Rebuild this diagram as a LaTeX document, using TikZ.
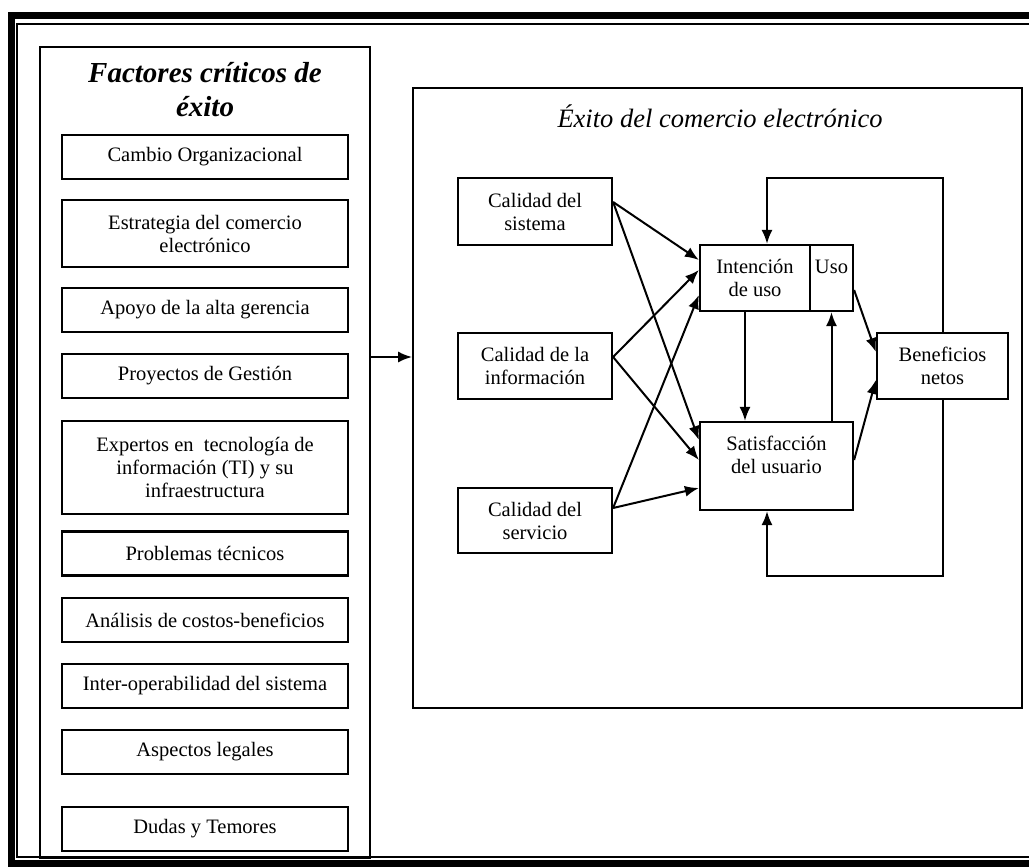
\documentclass[tikz,border=0pt]{standalone}
\usepackage{fontspec}
\setmainfont{Liberation Serif}
\usetikzlibrary{arrows.meta,calc}

\begin{document}
\begin{tikzpicture}[x=1pt,y=-1pt,
	caja/.style={draw, line width=2.2pt, align=center, inner sep=0pt,
		font=\fontsize{20.5}{23}\selectfont},
	panel/.style={draw, line width=1.8pt, inner sep=0pt},
	flecha/.style={-{Latex[length=14pt,width=11pt]}, line width=2pt}]

	% parameters
	\def\anchoizq{286}
	\def\altoizq{44}
	\def\anchocal{154}

	\useasboundingbox (0,0) rectangle (1029,867);

	% frame
	\draw[line width=7pt] (1040,16) -| (11,863) -- (1040,863);
	\draw[line width=1.5pt] (1040,24) -| (17,857) -- (1040,857);

	% panels
	\node[panel, minimum width=330, minimum height=811] (izq) at (205,452.5) {};
	\node[panel, minimum width=609, minimum height=620] (der) at (717.5,398) {};

	% titles
	\node[anchor=north, align=center, inner sep=0pt,
		font=\fontsize{29}{34}\selectfont\bfseries\itshape] (titizq) at (205,62)
		{Factores críticos de\\éxito};
	\node[anchor=base, inner sep=0pt,
		font=\fontsize{26.5}{30}\selectfont\itshape] (titder) at (720,128)
		{Éxito del comercio electrónico};

	% critical factors
	\node[caja, minimum width=\anchoizq, minimum height=\altoizq] (f1) at (205,157) {Cambio Organizacional};
	\node[caja, minimum width=\anchoizq, minimum height=67] (f2) at (205,233.5) {Estrategia del comercio\\electrónico};
	\node[caja, minimum width=\anchoizq, minimum height=\altoizq] (f3) at (205,310) {Apoyo de la alta gerencia};
	\node[caja, minimum width=\anchoizq, minimum height=\altoizq] (f4) at (205,376) {Proyectos de Gestión};
	\node[caja, minimum width=\anchoizq, minimum height=93] (f5) at (205,467.5) {Expertos en\ \ tecnología de\\información (TI) y su\\infraestructura};
	\node[caja, minimum width=\anchoizq, minimum height=\altoizq] (f6) at (205,553.5) {Problemas técnicos};
	\node[caja, minimum width=\anchoizq, minimum height=\altoizq] (f7) at (205,620) {Análisis de costos-beneficios};
	\node[caja, minimum width=\anchoizq, minimum height=\altoizq] (f8) at (205,686) {Inter-operabilidad del sistema};
	\node[caja, minimum width=\anchoizq, minimum height=\altoizq] (f9) at (205,752) {Aspectos legales};
	\node[caja, minimum width=\anchoizq, minimum height=\altoizq] (f10) at (205,829) {Dudas y Temores};

	% success model
	\node[caja, minimum width=\anchocal, minimum height=67] (sis) at (535,211.5) {Calidad del\\sistema};
	\node[caja, minimum width=\anchocal, minimum height=66] (info) at (535,366) {Calidad de la\\información};
	\node[caja, minimum width=\anchocal, minimum height=65] (serv) at (535,520.5) {Calidad del\\servicio};
	\node[caja, minimum width=110, minimum height=66] (int) at (755,278) {Intención\\de uso};
	\node[caja, minimum width=43, minimum height=66] (uso) at (831.5,278) {Uso\\\mbox{}};
	\node[caja, minimum width=153, minimum height=88] (sat) at (776.5,466) {Satisfacción\\del usuario\\\mbox{}};
	\node[caja, minimum width=131, minimum height=66] (ben) at (942.5,366) {Beneficios\\netos};

	% connectors
	\coordinate (entrada) at ([yshift=9pt]info.west);
	\draw[flecha] (izq.east |- entrada) -- (der.west |- entrada);

	\draw[flecha] ([yshift=9.5pt]sis.east) -- ([yshift=18pt]int.west);
	\draw[flecha] ([yshift=9.5pt]sis.east) -- ([yshift=26pt]sat.west);
	\draw[flecha] ([yshift=9pt]info.east) -- ([yshift=8pt]int.west);
	\draw[flecha] ([yshift=9pt]info.east) -- ([yshift=6pt]sat.west);
	\draw[flecha] ([yshift=12.5pt]serv.east) -- ([yshift=-17pt]int.west);
	\draw[flecha] ([yshift=12.5pt]serv.east) -- ([yshift=-22pt]sat.west);

	\draw[flecha] ([xshift=-10pt]int.south) -- ([xshift=-10pt]int.south |- sat.north);
	\draw[flecha] (uso.south |- sat.north) -- (uso.south);
	\draw[flecha] ([yshift=-12pt]uso.east) -- ([yshift=14pt]ben.west);
	\draw[flecha] ([yshift=6pt]sat.east) -- ([yshift=-14pt]ben.west);

	% feedback
	\draw[flecha] (ben.north) -- ++(0,-154) -| ([xshift=12pt]int.north);
	\draw[flecha] (ben.south) -- ++(0,176) -| ([xshift=-9.5pt]sat.south);

\end{tikzpicture}
\end{document}
